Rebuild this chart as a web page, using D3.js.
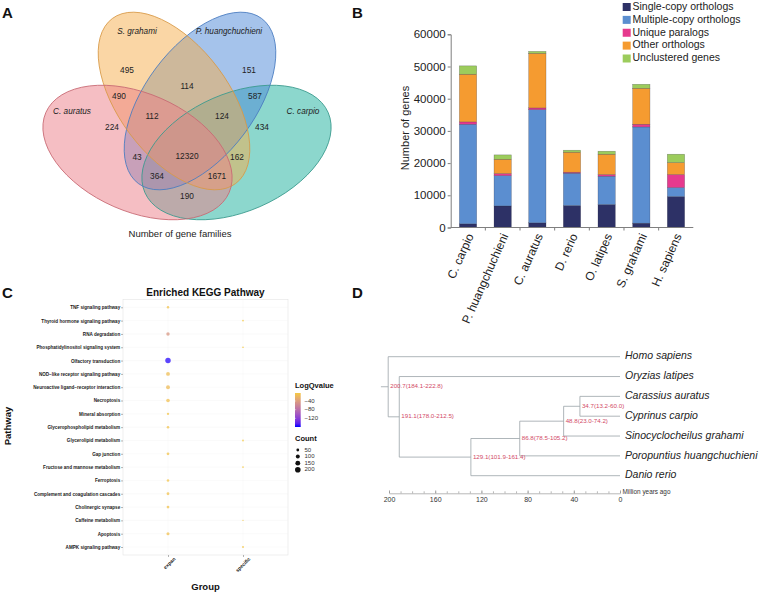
<!DOCTYPE html>
<html>
<head>
<meta charset="utf-8">
<script src="https://cdn.jsdelivr.net/npm/d3@7"></script>
<style>
  body { margin: 0; background: #fff; }
  svg { display: block; font-family: "Liberation Sans", Arial, Helvetica, sans-serif; }
</style>
</head>
<body>
<svg id="fig" width="767" height="595"></svg>
<script>
// ---------- Panel A: gene family Venn ----------
const vennSets = ["C. auratus", "S. grahami", "P. huangchuchieni", "C. carpio"];
const vennRegions = ["a", "b", "c", "d", "ab", "bc", "cd", "ad", "ac", "bd", "abc", "bcd", "abd", "acd", "abcd"];
const vennCounts = [224, 495, 151, 434, 490, 114, 587, 190, 43, 162, 112, 124, 1671, 364, 12320];

// ---------- Panel B: ortholog composition ----------
const species = ["C. carpio", "P. huangchuchieni", "C. auratus", "D. rerio", "O. latipes", "S. grahami", "H. sapiens"];
const orthoTypes = ["Single-copy orthologs", "Multiple-copy orthologs", "Unique paralogs", "Other orthologs", "Unclustered genes"];
const singleCopy = [1140, 6700, 1450, 6830, 7140, 1340, 9620];
const multiCopy = [30930, 9400, 35150, 10030, 8790, 29900, 2790];
const uniqueParalogs = [730, 660, 540, 310, 520, 830, 4040];
const otherOrthologs = [14800, 4440, 16960, 6210, 6310, 11170, 3720];
const unclustered = [2600, 1350, 600, 620, 930, 1240, 2590];
const geneTicks = [0, 10000, 20000, 30000, 40000, 50000, 60000];

// ---------- Panel C: KEGG enrichment ----------
const pathways = ["TNF signaling pathway", "Thyroid hormone signaling pathway", "RNA degradation",
  "Phosphatidylinositol signaling system", "Olfactory transduction", "NOD\u2212like receptor signaling pathway",
  "Neuroactive ligand\u2212receptor interaction", "Necroptosis", "Mineral absorption",
  "Glycerophospholipid metabolism", "Glycerolipid metabolism", "Gap junction",
  "Fructose and mannose metabolism", "Ferroptosis", "Complement and coagulation cascades",
  "Cholinergic synapse", "Caffeine metabolism", "Apoptosis", "AMPK signaling pathway"];
const groups = ["expan", "specific"];
const expanTerms = ["TNF signaling pathway", "RNA degradation", "Olfactory transduction",
  "NOD\u2212like receptor signaling pathway", "Neuroactive ligand\u2212receptor interaction", "Necroptosis",
  "Mineral absorption", "Glycerophospholipid metabolism", "Gap junction", "Ferroptosis",
  "Complement and coagulation cascades", "Cholinergic synapse", "Apoptosis"];
const expanCount = [38, 75, 190, 95, 100, 85, 35, 40, 48, 40, 50, 48, 60];
const expanLogQ = [-8, -45, -157, -12, -14, -10, -6, -8, -7, -7, -9, -8, -10];
const specificTerms = ["Thyroid hormone signaling pathway", "Phosphatidylinositol signaling system",
  "Glycerolipid metabolism", "Fructose and mannose metabolism", "Caffeine metabolism", "AMPK signaling pathway"];
const specificCount = [22, 18, 22, 20, 14, 26];
const specificLogQ = [-3, -3, -3, -3, -3, -4];
const logqBreaks = [-40, -80, -120];
const countBreaks = [50, 100, 150, 200];

// ---------- Panel D: divergence times ----------
const treeLeaves = ["Homo sapiens", "Oryzias latipes", "Carassius auratus", "Cyprinus carpio",
  "Sinocyclocheilus grahami", "Poropuntius huangchuchieni", "Danio rerio"];
const cladeIds = ["n1", "n2", "n3", "n4", "n5", "root"];
const cladeAges = [34.7, 48.8, 86.8, 129.1, 191.1, 200.7];
const cladeCI = ["13.2-60.0", "23.0-74.2", "78.5-105.2", "101.9-161.4", "178.0-212.5", "184.1-222.8"];
const cladeChildren = [["Carassius auratus", "Cyprinus carpio"], ["n1", "Sinocyclocheilus grahami"],
  ["n2", "Poropuntius huangchuchieni"], ["n3", "Danio rerio"], ["Oryzias latipes", "n4"], ["Homo sapiens", "n5"]];
const timeTicks = [200, 160, 120, 80, 40, 0];

const svg = d3.select("#fig");
svg.append("rect").attr("width", 767).attr("height", 595).attr("fill", "#fff");

// panel letters
[["A", 2, 18], ["B", 352, 18], ["C", 2, 298], ["D", 352, 298]].forEach(([t, x, y]) => {
  svg.append("text").attr("x", x).attr("y", y).text(t)
    .style("font-size", "15px").style("font-weight", "bold").attr("fill", "#111");
});

// ================= A =================
drawVenn();
function drawVenn() {
  const g = svg.append("g");
  const mid = 187;
  // ellipse geometry of the 4-set layout (draw order: carpio, huang, grahami, auratus)
  const ellipses = [
    { cx: mid + 49.5, cy: 152.5, rx: 100, ry: 59, rot: -23.6, fill: "#19af9b", stroke: "#3a9a8e" },
    { cx: mid + 13, cy: 101, rx: 103, ry: 55, rot: -53.2, fill: "#4b87d7", stroke: "#4a7cc0" },
    { cx: mid - 13, cy: 101, rx: 103, ry: 55, rot: 53.2, fill: "#f5ad4c", stroke: "#d89a48" },
    { cx: mid - 49.5, cy: 152.5, rx: 100, ry: 59, rot: 23.6, fill: "#eb7d87", stroke: "#c86a74" }
  ];
  g.selectAll("ellipse.fill").data(ellipses).enter().append("ellipse")
    .attr("transform", d => `translate(${d.cx},${d.cy}) rotate(${d.rot})`)
    .attr("rx", d => d.rx).attr("ry", d => d.ry)
    .attr("fill", d => d.fill).attr("fill-opacity", 0.5);
  g.selectAll("ellipse.line").data(ellipses).enter().append("ellipse")
    .attr("transform", d => `translate(${d.cx},${d.cy}) rotate(${d.rot})`)
    .attr("rx", d => d.rx).attr("ry", d => d.ry)
    .attr("fill", "none").attr("stroke", d => d.stroke).attr("stroke-width", 0.8);

  const labelPos = {
    a: [mid - 75, 128], b: [mid - 60, 71], c: [mid + 62, 71], d: [mid + 75, 128],
    ab: [mid - 68, 97], bc: [mid, 87], cd: [mid + 68, 97], ad: [mid, 197],
    ac: [mid - 50, 158], bd: [mid + 50, 158], abc: [mid - 35, 117], bcd: [mid + 35, 117],
    abd: [mid + 30, 177], acd: [mid - 30, 177], abcd: [mid, 157]
  };
  g.selectAll("text.count").data(vennRegions).enter().append("text")
    .attr("x", d => labelPos[d][0]).attr("y", d => labelPos[d][1])
    .attr("text-anchor", "middle").attr("dominant-baseline", "middle")
    .style("font-size", "8.3px").attr("fill", "#222")
    .text((d, i) => vennCounts[i]);

  const setPos = [[mid - 115, 112], [mid - 50, 32], [mid + 42, 32], [mid + 116, 112]];
  g.selectAll("text.set").data(vennSets).enter().append("text")
    .attr("x", (d, i) => setPos[i][0]).attr("y", (d, i) => setPos[i][1])
    .attr("text-anchor", "middle").attr("dominant-baseline", "middle")
    .style("font-size", "8.2px").style("font-style", "italic").attr("fill", "#222")
    .text(d => d);

  g.append("text").attr("x", 180).attr("y", 234).attr("text-anchor", "middle")
    .attr("dominant-baseline", "middle").style("font-size", "9.5px").attr("fill", "#222")
    .text("Number of gene families");
}

// ================= B =================
drawBars();
function drawBars() {
  const g = svg.append("g");
  const x = d3.scaleBand().domain(species).range([450.7, 693.3]).paddingInner(0.5).paddingOuter(0.25);
  const y = d3.scaleLinear().domain([0, 60000]).range([227.5, 34.3]);
  const colors = d3.scaleOrdinal().domain(orthoTypes)
    .range(["#2d3166", "#5b8ed0", "#e63a8e", "#f59b30", "#9ccc5c"]);
  const series = [singleCopy, multiCopy, uniqueParalogs, otherOrthologs, unclustered];
  const rows = species.map((s, i) => {
    const r = { species: s };
    orthoTypes.forEach((t, k) => { r[t] = series[k][i]; });
    return r;
  });
  const stacked = d3.stack().keys(orthoTypes)(rows);

  g.selectAll("g.layer").data(stacked).enter().append("g")
    .attr("fill", d => colors(d.key))
    .selectAll("rect").data(d => d).enter().append("rect")
    .attr("x", d => x(d.data.species)).attr("width", x.bandwidth())
    .attr("y", d => y(d[1])).attr("height", d => y(d[0]) - y(d[1]))
    .attr("stroke", "rgba(40,40,60,0.45)").attr("stroke-width", 0.5);

  const yAxis = g.append("g").attr("transform", "translate(450.7,0)")
    .call(d3.axisLeft(y).tickValues(geneTicks).tickFormat(d3.format("d")).tickSize(3).tickPadding(2));
  yAxis.selectAll("text").style("font-size", "11.5px").attr("fill", "#222");
  yAxis.selectAll("line, path").attr("stroke", "#7f7f7f");

  const xAxis = g.append("g").attr("transform", "translate(0,227.5)");
  xAxis.append("line").attr("x1", 450.7).attr("x2", 693.3).attr("stroke", "#7f7f7f");
  const step = x.step();
  xAxis.selectAll("line.tk").data(species.slice(1)).enter().append("line")
    .attr("x1", d => x(d) - step * 0.25).attr("x2", d => x(d) - step * 0.25)
    .attr("y1", 0).attr("y2", 3).attr("stroke", "#7f7f7f");
  xAxis.selectAll("text").data(species).enter().append("text")
    .attr("transform", d => `translate(${x(d) + x.bandwidth() / 2 + 3},7) rotate(-66)`)
    .attr("text-anchor", "end").attr("dominant-baseline", "middle")
    .style("font-size", "12px").attr("fill", "#222").text(d => d);

  g.append("text").attr("transform", "translate(406,128) rotate(-90)")
    .attr("text-anchor", "middle").attr("dominant-baseline", "middle")
    .style("font-size", "11px").attr("fill", "#222").text("Number of genes");

  const leg = g.append("g");
  const ly = d3.scalePoint().domain(orthoTypes).range([7, 58.5]);
  leg.selectAll("rect").data(orthoTypes).enter().append("rect")
    .attr("x", 622.7).attr("y", d => ly(d) - 4).attr("width", 8).attr("height", 8)
    .attr("fill", d => colors(d));
  leg.selectAll("text").data(orthoTypes).enter().append("text")
    .attr("x", 632.5).attr("y", d => ly(d)).attr("dominant-baseline", "middle")
    .style("font-size", "10.5px").attr("fill", "#222").text(d => d);
}

// ================= C =================
drawDots();
function drawDots() {
  const g = svg.append("g");
  const x = d3.scalePoint().domain(groups).range([123, 288]).padding(0.6);
  const y = d3.scalePoint().domain(pathways).range([299.3, 555]).padding(0.6);
  const r = d3.scaleSqrt().domain([0, 200]).range([0, 2.8]);
  const color = d3.scaleLinear().domain([-160, -3]).range(["#0000ff", "#f5c842"]).interpolate(d3.interpolateLab);

  g.append("text").attr("x", 205.5).attr("y", 293).attr("text-anchor", "middle")
    .attr("dominant-baseline", "middle").style("font-size", "10px").style("font-weight", "bold")
    .attr("fill", "#111").text("Enriched KEGG Pathway");

  g.append("rect").attr("x", 123).attr("y", 299.3).attr("width", 165).attr("height", 255.7)
    .attr("fill", "#fff").attr("stroke", "#e4e4e4").attr("stroke-width", 0.6);
  g.selectAll("line.gy").data(pathways).enter().append("line")
    .attr("x1", 123).attr("x2", 288).attr("y1", d => y(d)).attr("y2", d => y(d))
    .attr("stroke", "#f3f3f3").attr("stroke-width", 0.4);
  g.selectAll("line.gx").data(groups).enter().append("line")
    .attr("y1", 299.3).attr("y2", 555).attr("x1", d => x(d)).attr("x2", d => x(d))
    .attr("stroke", "#f3f3f3").attr("stroke-width", 0.4);

  const dots = expanTerms.map((t, i) => ({ term: t, group: "expan", count: expanCount[i], q: expanLogQ[i] }))
    .concat(specificTerms.map((t, i) => ({ term: t, group: "specific", count: specificCount[i], q: specificLogQ[i] })));
  g.selectAll("circle.dot").data(dots).enter().append("circle")
    .attr("cx", d => x(d.group)).attr("cy", d => y(d.term)).attr("r", d => r(d.count))
    .attr("fill", d => color(d.q)).attr("fill-opacity", 0.75);

  const yAxis = g.append("g").attr("transform", "translate(123,0)")
    .call(d3.axisLeft(y).tickSize(2).tickPadding(0.8));
  yAxis.select("path").remove();
  yAxis.selectAll("line").attr("stroke", "#444").attr("stroke-width", 0.4);
  yAxis.selectAll("text").style("font-size", "4.6px").style("font-weight", "bold").attr("fill", "#1a1a1a");

  const xAxis = g.append("g").attr("transform", "translate(0,555)")
    .call(d3.axisBottom(x).tickSize(2).tickPadding(1));
  xAxis.select("path").remove();
  xAxis.selectAll("line").attr("stroke", "#444").attr("stroke-width", 0.4);
  xAxis.selectAll("text").attr("transform", "translate(2,-1) rotate(-45)")
    .attr("text-anchor", "end").attr("dy", "0.9em")
    .style("font-size", "5px").style("font-weight", "bold").attr("fill", "#1a1a1a");

  g.append("text").attr("x", 205.5).attr("y", 587).attr("text-anchor", "middle")
    .attr("dominant-baseline", "middle").style("font-size", "9.5px").style("font-weight", "bold")
    .attr("fill", "#111").text("Group");
  g.append("text").attr("transform", "translate(8.5,426) rotate(-90)").attr("text-anchor", "middle")
    .attr("dominant-baseline", "middle").style("font-size", "9.5px").style("font-weight", "bold")
    .attr("fill", "#111").text("Pathway");

  // colour legend
  g.append("text").attr("x", 295).attr("y", 386).attr("dominant-baseline", "middle")
    .style("font-size", "7.5px").style("font-weight", "bold").attr("fill", "#111").text("LogQvalue");
  const ly = d3.scaleLinear().domain([-160, -3]).range([427, 393]);
  const grad = svg.append("defs").append("linearGradient").attr("id", "qgrad")
    .attr("x1", 0).attr("x2", 0).attr("y1", 0).attr("y2", 1);
  grad.selectAll("stop").data(d3.range(0, 1.001, 0.1)).enter().append("stop")
    .attr("offset", d => d).attr("stop-color", d => color(-3 - d * 157));
  g.append("rect").attr("x", 295).attr("y", 393).attr("width", 5.7).attr("height", 34)
    .attr("fill", "url(#qgrad)");
  g.selectAll("line.qt").data(logqBreaks).enter().append("line")
    .attr("x1", 295).attr("x2", 296.2).attr("y1", d => ly(d)).attr("y2", d => ly(d))
    .attr("stroke", "#fff").attr("stroke-width", 0.4);
  g.selectAll("text.qt").data(logqBreaks).enter().append("text")
    .attr("x", 304.5).attr("y", d => ly(d)).attr("dominant-baseline", "middle")
    .style("font-size", "6px").attr("fill", "#333").text(d => d3.format("d")(d));

  // size legend
  g.append("text").attr("x", 295).attr("y", 439).attr("dominant-baseline", "middle")
    .style("font-size", "7.5px").style("font-weight", "bold").attr("fill", "#111").text("Count");
  const sy = d3.scalePoint().domain(countBreaks).range([450, 469.7]);
  g.selectAll("circle.sz").data(countBreaks).enter().append("circle")
    .attr("cx", 297.8).attr("cy", d => sy(d)).attr("r", d => r(d)).attr("fill", "#111");
  g.selectAll("text.sz").data(countBreaks).enter().append("text")
    .attr("x", 304.5).attr("y", d => sy(d)).attr("dominant-baseline", "middle")
    .style("font-size", "6px").attr("fill", "#333").text(d => d);
}

// ================= D =================
drawTree();
function drawTree() {
  const g = svg.append("g");
  const x = d3.scaleLinear().domain([200, 0]).range([389, 620]);
  const yLeaf = d3.scalePoint().domain(treeLeaves).range([356.7, 475.7]);

  function build(id) {
    const k = cladeIds.indexOf(id);
    if (k < 0) return { name: id, age: 0 };
    return { name: id, age: cladeAges[k], ci: cladeCI[k], children: cladeChildren[k].map(build) };
  }
  const root = d3.hierarchy(build("root"));
  root.eachAfter(n => {
    n.px = x(n.data.age);
    n.py = n.children ? d3.mean(n.children, c => c.py) : yLeaf(n.data.name);
  });

  const lineColor = "#9ba3a8";
  // horizontal branches
  root.descendants().filter(n => n.parent).forEach(n => {
    g.append("line").attr("x1", n.parent.px).attr("x2", n.px).attr("y1", n.py).attr("y2", n.py)
      .attr("stroke", lineColor).attr("stroke-width", 0.8);
  });
  g.append("line").attr("x1", x(207)).attr("x2", root.px).attr("y1", root.py).attr("y2", root.py)
    .attr("stroke", lineColor).attr("stroke-width", 0.8);
  // vertical connectors
  root.descendants().filter(n => n.children).forEach(n => {
    const ys = n.children.map(c => c.py);
    g.append("line").attr("x1", n.px).attr("x2", n.px).attr("y1", d3.min(ys)).attr("y2", d3.max(ys))
      .attr("stroke", lineColor).attr("stroke-width", 0.8);
  });
  // node labels
  g.selectAll("text.node").data(root.descendants().filter(n => n.children)).enter().append("text")
    .attr("x", n => n.px + 2).attr("y", n => n.py).attr("dominant-baseline", "middle")
    .style("font-size", "6.2px").attr("fill", "#d24a66")
    .text(n => `${n.data.age.toFixed(1)}(${n.data.ci})`);
  // leaf labels
  g.selectAll("text.leaf").data(root.leaves()).enter().append("text")
    .attr("x", 625).attr("y", n => n.py).attr("dominant-baseline", "middle")
    .style("font-size", "10.5px").style("font-style", "italic").attr("fill", "#222")
    .text(n => n.data.name);

  // time axis
  const ax = g.append("g").attr("transform", "translate(0,493.3)");
  ax.call(d3.axisBottom(x).tickValues(d3.range(0, 201, 10)).tickFormat("").tickSizeInner(-2).tickSizeOuter(0));
  ax.call(a => a.selectAll("line, path").attr("stroke", "#888").attr("stroke-width", 0.6));
  const ax2 = g.append("g").attr("transform", "translate(0,493.3)")
    .call(d3.axisBottom(x).tickValues(timeTicks).tickSizeInner(-3).tickSizeOuter(0).tickPadding(4));
  ax2.select("path").remove();
  ax2.selectAll("line").attr("stroke", "#888").attr("stroke-width", 0.6);
  ax2.selectAll("text").style("font-size", "7px").attr("fill", "#333");
  g.append("text").attr("x", 622.5).attr("y", 492.5).attr("dominant-baseline", "middle")
    .style("font-size", "6.4px").attr("fill", "#333").text("Million years ago");
}
</script>
</body>
</html>
